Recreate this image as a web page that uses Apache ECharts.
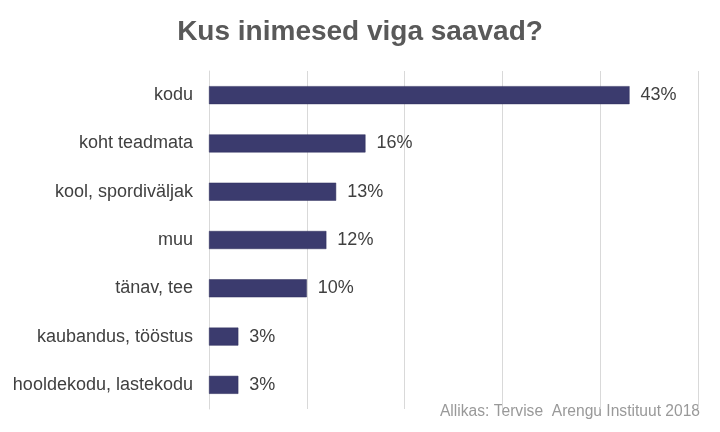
<!DOCTYPE html>
<html><head><meta charset="utf-8">
<script src="https://cdn.jsdelivr.net/npm/echarts@6/dist/echarts.min.js"></script>
<style>html,body{margin:0;padding:0;background:#fff}#c{width:720px;height:432px}</style>
</head><body><div id="c"></div>
<script>
const categories = ["kodu","koht teadmata","kool, spordiväljak","muu","tänav, tee","kaubandus, tööstus","hooldekodu, lastekodu"];
const values = [43,16,13,12,10,3,3];
const titleText = "Kus inimesed viga saavad?";
const sourceText = "Allikas: Tervise  Arengu Instituut 2018";

const chart = echarts.init(document.getElementById('c'), null, {renderer:'canvas'});
chart.setOption({
  animation:false,
  backgroundColor:'#fff',
  title:{text:titleText,left:'center',top:13,textStyle:{fontFamily:'Liberation Sans, Arial',fontSize:28,fontWeight:'bold',color:'#595959'}},
  graphic:[{type:'text',right:20,top:404,style:{text:sourceText,font:'15.6px "Liberation Sans", Arial',fill:'#999999'}}],
  grid:{left:209,right:22,top:71,bottom:23},
  xAxis:{type:'value',min:0,max:50,interval:10,axisLabel:{show:false},axisTick:{show:false},
    axisLine:{show:false},splitLine:{show:true,lineStyle:{color:'#d9d9d9',width:1}}},
  yAxis:{type:'category',data:categories,inverse:true,axisTick:{show:false},
    axisLine:{show:true,lineStyle:{color:'#d9d9d9'}},
    axisLabel:{margin:16,fontFamily:'Liberation Sans, Arial',fontSize:18,color:'#404040'}},
  series:[{type:'bar',data:values,barWidth:18,itemStyle:{color:'#3b3b6e',borderColor:'#2e2e5c',borderWidth:0.5},
    label:{show:true,position:'right',distance:11,formatter:'{c}%',fontFamily:'Liberation Sans, Arial',fontSize:18,color:'#404040'}}]
});
</script></body></html>
